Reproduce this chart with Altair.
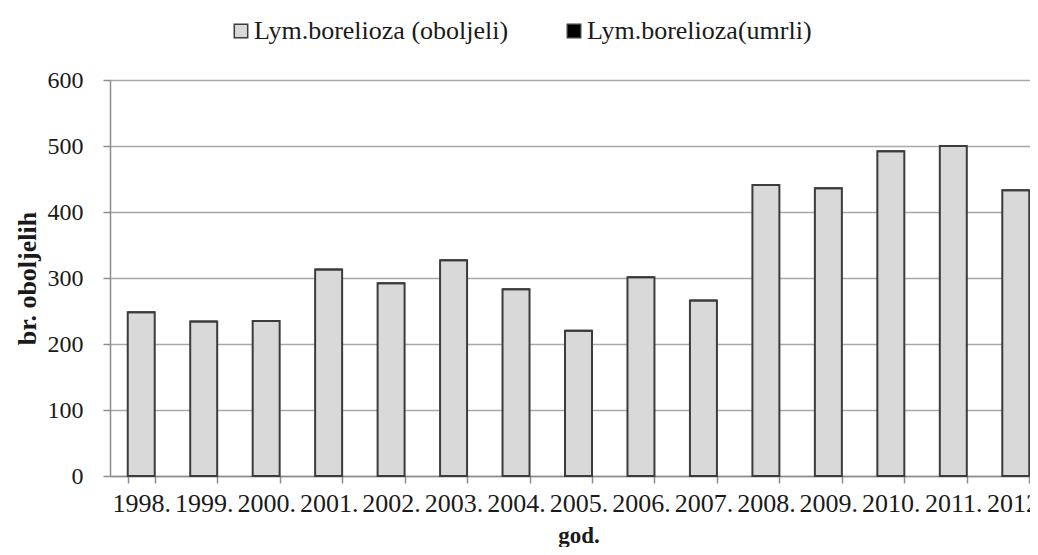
import altair as alt
import pandas as pd

years = ["1998.", "1999.", "2000.", "2001.", "2002.", "2003.", "2004.", "2005.",
         "2006.", "2007.", "2008.", "2009.", "2010.", "2011.", "2012."]
oboljeli = [248, 234, 235, 313, 292, 327, 283, 220, 301, 266, 441, 436, 492, 500, 433]
umrli = [0] * 15
series = ["Lym.borelioza (oboljeli)", "Lym.borelioza(umrli)"]

rows = []
for y, a, b in zip(years, oboljeli, umrli):
    rows.append({"god": y, "serija": series[0], "broj": a, "ord": 0})
    rows.append({"god": y, "serija": series[1], "broj": b, "ord": 1})
df = pd.DataFrame(rows)

FONT = "Liberation Serif"

chart = alt.Chart(df).mark_bar(stroke="#3c3c3c", strokeWidth=2).encode(
    x=alt.X("god:N", sort=years, title="god.",
            scale=alt.Scale(range=[0, 937], paddingInner=0.568, paddingOuter=0.284),
            axis=alt.Axis(labelAngle=0, labelFontSize=26, labelFont=FONT, labelColor="#1a1a1a",
                          labelPadding=7, labelOverlap=False, labelBound=False,
                          titleFont=FONT, titleFontSize=23, titleFontWeight="bold",
                          titleColor="#1a1a1a", titlePadding=8,
                          domainColor="#8c8c8c", domainWidth=1.5,
                          tickColor="#8c8c8c", tickWidth=1.5, tickSize=7,
                          tickBand="extent")),
    y=alt.Y("broj:Q", title="br. oboljelih",
            scale=alt.Scale(domain=[0, 600], nice=False),
            axis=alt.Axis(values=[0, 100, 200, 300, 400, 500, 600], labelFontSize=24,
                          labelFont=FONT, labelColor="#1a1a1a", labelPadding=20,
                          titleFont=FONT, titleFontSize=26, titleFontWeight="bold",
                          titleColor="#1a1a1a", titlePadding=7,
                          domainColor="#8c8c8c", domainWidth=1.5,
                          tickColor="#8c8c8c", tickWidth=1.5, tickSize=7,
                          gridColor="#a8a8a8", gridWidth=1.5)),
    color=alt.Color("serija:N", sort=series,
                    scale=alt.Scale(domain=series, range=["#d9d9d9", "#000000"]),
                    legend=alt.Legend(title=None, orient="none", direction="horizontal",
                                      legendX=118, legendY=-62, padding=0,
                                      symbolType="square",
                                      symbolSize=180, symbolStrokeColor="#3c3c3c",
                                      symbolStrokeWidth=1.5, labelFont=FONT,
                                      labelFontSize=26, labelColor="#1a1a1a",
                                      labelLimit=400, labelOffset=0, columnPadding=52)),
    order=alt.Order("ord:Q"),
).properties(
    width=920, height=396,
    autosize=alt.AutoSizeParams(type="none"),
    padding={"left": 102, "top": 72, "right": 0, "bottom": 71},
).configure_view(stroke=None).configure(background="white", font=FONT)

chart.save("out.html", embed_options={"renderer": "svg", "actions": False})
